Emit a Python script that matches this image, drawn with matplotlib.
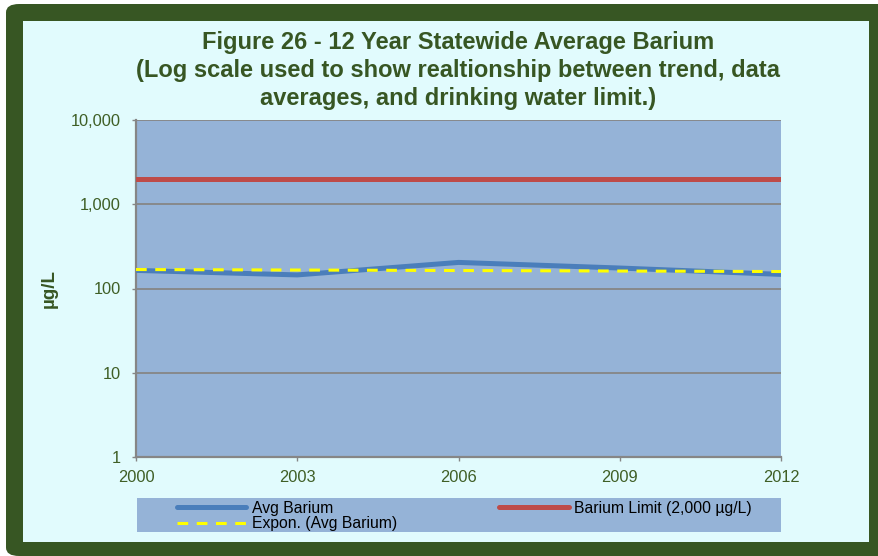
import matplotlib
matplotlib.use("Agg")
import matplotlib.pyplot as plt
from matplotlib.patches import FancyBboxPatch, Rectangle

plt.rcParams['font.family'] = ['Liberation Sans', 'DejaVu Sans']

# Data
years = [2000, 2003, 2006, 2009, 2012]
avg_barium = [164, 145, 204, 175, 147]
limit_years = [2000, 2012]
barium_limit = [2000, 2000]
trend_years = [2000, 2012]
trend_vals = [168, 159]

title_lines = [
    "Figure 26 - 12 Year Statewide Average Barium",
    "(Log scale used to show realtionship between trend, data",
    "averages, and drinking water limit.)",
]

green = '#375623'
text_green = '#3F5F26'
inner_bg = '#E1FBFD'
plot_bg = '#95B3D7'
grid_col = '#868686'

fig = plt.figure(figsize=(8.79, 5.56), dpi=100)
fig.patch.set_facecolor('white')

W, H = 879, 556
def fx(px):
    return px / W
def fy(py):
    return 1 - py / H

# dark green rounded frame with light cyan inside
frame = FancyBboxPatch((fx(6), 0), fx(879 - 6) + 0.02, (556 - 4) / H,
                       boxstyle="round,pad=0,rounding_size=0.015",
                       transform=fig.transFigure, facecolor=green, edgecolor='none', zorder=-3)
fig.patches.append(frame)
inner = Rectangle((fx(23), fy(542)), fx(869 - 23), (542 - 21) / H,
                  transform=fig.transFigure, facecolor=inner_bg, edgecolor='none', zorder=-2)
fig.patches.append(inner)
leg_bg = Rectangle((fx(137), fy(532)), fx(781 - 137), (532 - 498) / H,
                   transform=fig.transFigure, facecolor=plot_bg, edgecolor='none', zorder=-1)
fig.patches.append(leg_bg)

ax = fig.add_axes([fx(136), fy(457), fx(781 - 136), (457 - 120) / H])
ax.set_facecolor(plot_bg)

l1, = ax.plot(years, avg_barium, color='#4A7EBB', lw=3.6, solid_capstyle='round',
              label='Avg Barium', zorder=3)
l2, = ax.plot(limit_years, barium_limit, color='#BE4B48', lw=3.6, solid_capstyle='round',
              label='Barium Limit (2,000 µg/L)', zorder=3)
l3, = ax.plot(trend_years, trend_vals, color='#FFFF00', lw=2.2, dashes=(3.5, 2.8),
              label='Expon. (Avg Barium)', zorder=4)

ax.set_yscale('log')
ax.set_ylim(1, 10000)
ax.set_xlim(2000, 2012)
ax.set_xticks([2000, 2003, 2006, 2009, 2012])
ax.set_yticks([1, 10, 100, 1000, 10000])
ax.set_yticklabels(['1', '10', '100', '1,000', '10,000'])
ax.minorticks_off()
ax.yaxis.grid(True, color=grid_col, lw=1.3)
ax.set_axisbelow(True)

for s in ['top', 'right']:
    ax.spines[s].set_visible(False)
for s in ['left', 'bottom']:
    ax.spines[s].set_color(grid_col)
    ax.spines[s].set_linewidth(1.6)

ax.tick_params(axis='both', colors=grid_col, labelcolor=text_green, labelsize=11.8,
               length=3, width=1)
ax.tick_params(axis='y', pad=8)
ax.tick_params(axis='x', pad=6)

ax.set_ylabel('µg/L', color=green, fontsize=13.5, fontweight='bold', labelpad=9)

for i, line in enumerate(title_lines):
    fig.text(fx(458), fy(43 + 27.5 * i), line, ha='center', va='center',
             fontsize=17, fontweight='bold', color=green)

leg = fig.legend(handles=[l1, l3, l2], ncol=2, loc='upper left',
                 bbox_to_anchor=(fx(175), fy(499)), frameon=False, fontsize=11.3,
                 handlelength=4.45, handletextpad=0.35, borderpad=0.1,
                 labelspacing=0.05, columnspacing=6.5, borderaxespad=0)
for t in leg.get_texts():
    t.set_color('black')

fig.savefig('out.png', dpi=100)
